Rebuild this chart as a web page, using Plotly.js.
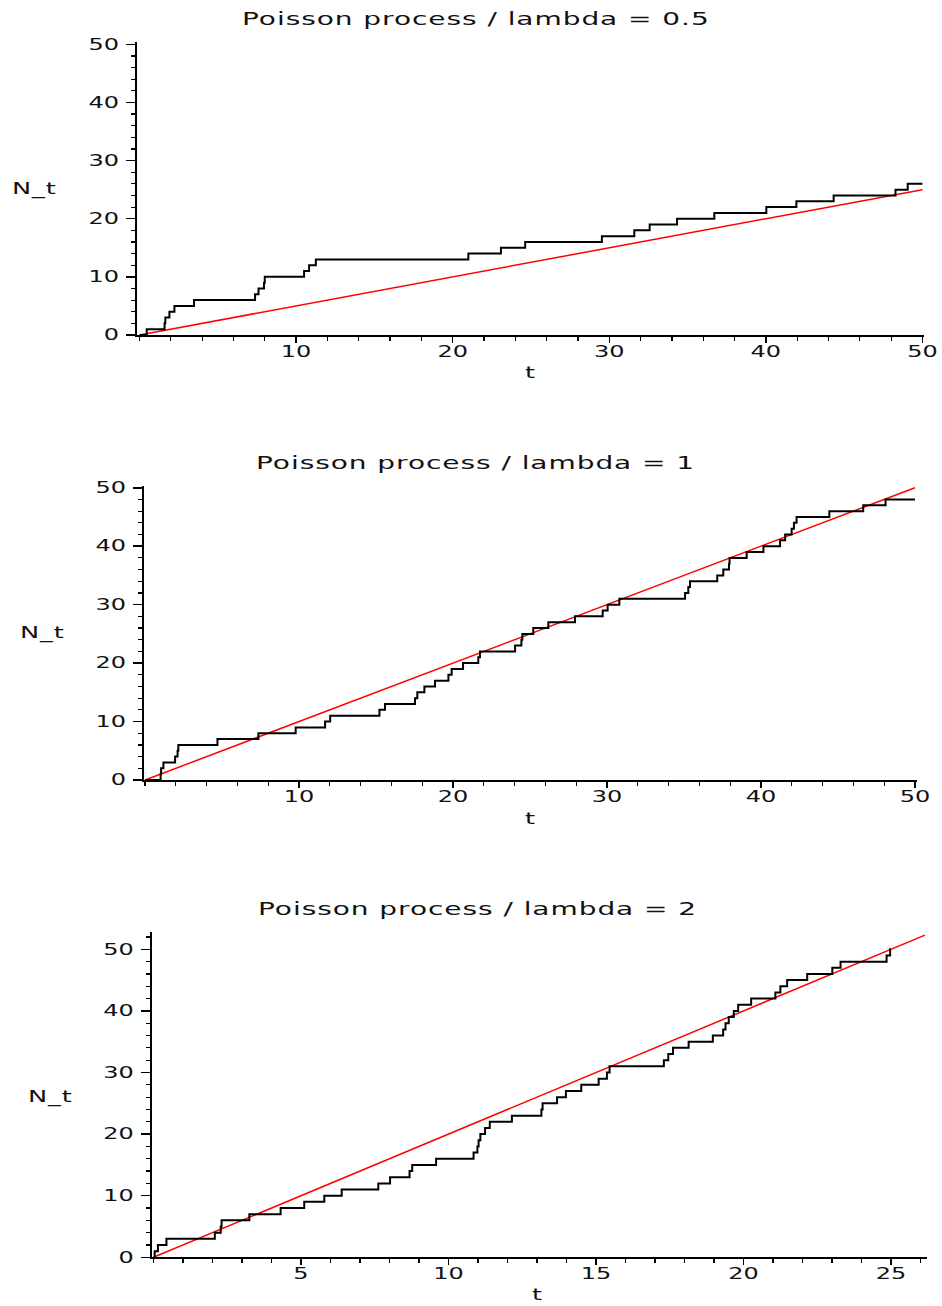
<!DOCTYPE html>
<html>
<head>
<meta charset="utf-8">
<script src="https://cdn.plot.ly/plotly-3.0.1.min.js"></script>
<style>
html, body { margin: 0; padding: 0; background: #ffffff; }
#chart { width: 942px; height: 1306px; }
g.xtick, g.x2tick, g.x3tick { transform-box: fill-box; transform-origin: center; transform: scaleX(1.6); }
g.ytick, g.y2tick, g.y3tick { transform-box: fill-box; transform-origin: right center; transform: scaleX(1.6); }
text.annotation-text { transform-box: fill-box; transform-origin: center; transform: scaleX(1.6); letter-spacing: 0.6px; }
</style>
</head>
<body>
<div id="chart"></div>
<script>
// ---- data ----
const panelTitles = ["Poisson process / lambda = 0.5", "Poisson process / lambda = 1", "Poisson process / lambda = 2"];
const xAxisLabel = "t";
const yAxisLabel = "N_t";

// jump (arrival) times of each simulated path
const jumpsLambda05 = [0.46, 1.60, 1.65, 1.91, 2.23, 3.48, 7.38, 7.60, 7.95, 8.00, 10.51, 10.83, 11.26,
  21.0, 23.08, 24.63, 29.53, 31.6, 32.58, 34.33, 36.71, 40.03, 41.95, 44.33, 48.28, 49.06];
const endLambda05 = 50;

const jumpsLambda1 = [1.01, 1.04, 1.19, 1.95, 2.11, 2.16, 4.70, 7.36, 9.78, 11.69, 12.02, 15.22, 15.58,
  17.53, 17.68, 18.14, 18.83, 19.70, 19.91, 20.65, 21.64, 21.75, 24.03, 24.44, 24.50, 25.21, 26.19,
  27.92, 29.72, 30.04, 30.80, 35.07, 35.28, 35.39, 37.16, 37.55, 37.92, 37.96, 39.07, 40.16, 41.24,
  41.57, 41.99, 42.14, 42.31, 44.44, 46.64, 48.09];
const endLambda1 = 50;

const jumpsLambda2 = [0.04, 0.15, 0.44, 2.08, 2.28, 2.31, 3.25, 4.31, 5.11, 5.79, 6.38, 7.62, 8.02,
  8.68, 8.77, 9.58, 10.85, 10.98, 11.02, 11.08, 11.24, 11.40, 12.15, 13.15, 13.19, 13.68, 13.98,
  14.5, 15.09, 15.37, 15.46, 17.3, 17.45, 17.61, 18.14, 18.96, 19.31, 19.39, 19.5, 19.67, 19.82,
  20.26, 21.08, 21.25, 21.48, 22.16, 23.01, 23.29, 24.85, 24.97];
const endLambda2 = 25.0;

// expected value lines (red)
const meanT05 = [0, 50];   const meanN05 = [0, 25];
const meanT1  = [0, 50];   const meanN1  = [0, 50];
const meanT2  = [0, 26.15]; const meanN2 = [0, 52.3];

// tick labels
const xTicks12 = [10, 20, 30, 40, 50];
const xTicks3 = [5, 10, 15, 20, 25];
const yTicks = [0, 10, 20, 30, 40, 50];

// ---- build ----
const W = 942, H = 1306;
const FONT = "DejaVu Sans";
const TXT = "#111111";

function stepPath(jumps, end) {
  const x = [0], y = [0];
  jumps.forEach((t, i) => { x.push(t); y.push(i + 1); });
  x.push(end); y.push(jumps.length);
  return { x, y };
}

function redTrace(tx, ny, xa, ya) {
  return { x: tx, y: ny, xaxis: xa, yaxis: ya, type: 'scatter', mode: 'lines',
           line: { color: '#ff0000', width: 1.5 }, hoverinfo: 'skip' };
}
function blackTrace(jumps, end, xa, ya) {
  const p = stepPath(jumps, end);
  return { x: p.x, y: p.y, xaxis: xa, yaxis: ya, type: 'scatter', mode: 'lines',
           line: { color: '#000000', width: 2, shape: 'hv' }, hoverinfo: 'skip' };
}

const data = [
  redTrace(meanT05, meanN05, 'x', 'y'),
  blackTrace(jumpsLambda05, endLambda05, 'x', 'y'),
  redTrace(meanT1, meanN1, 'x2', 'y2'),
  blackTrace(jumpsLambda1, endLambda1, 'x2', 'y2'),
  redTrace(meanT2, meanN2, 'x3', 'y3'),
  blackTrace(jumpsLambda2, endLambda2, 'x3', 'y3')
];

function px(X) { return X / W; }
function py(Y) { return 1 - Y / H; }

function xAxis(x0, x1, range, tickvals, minorD, anchor) {
  return {
    domain: [px(x0), px(x1)], range: range, anchor: anchor,
    tickmode: 'array', tickvals: tickvals, ticktext: tickvals.map(String),
    ticks: 'outside', ticklen: 6, tickwidth: 1.5, tickcolor: '#000',
    ticklabelstandoff: -4,
    showline: true, linecolor: '#000', linewidth: 2,
    showgrid: false, zeroline: false, fixedrange: true,
    tickfont: { family: FONT, size: 15, color: TXT },
    minor: { tickmode: 'linear', tick0: 0, dtick: minorD, ticks: 'outside', ticklen: 4,
             tickwidth: 1.2, tickcolor: '#000', showgrid: false }
  };
}
function yAxis(yBottom, yTop, range, anchor) {
  return {
    domain: [py(yBottom), py(yTop)], range: range, anchor: anchor,
    tickmode: 'array', tickvals: yTicks, ticktext: yTicks.map(String),
    ticks: 'outside', ticklen: 9, tickwidth: 1.5, tickcolor: '#000',
    ticklabelstandoff: 4,
    showline: true, linecolor: '#000', linewidth: 2,
    showgrid: false, zeroline: false, fixedrange: true,
    tickfont: { family: FONT, size: 15, color: TXT },
    minor: { tickmode: 'linear', tick0: 0, dtick: 2, ticks: 'outside', ticklen: 4,
             tickwidth: 1.2, tickcolor: '#000', showgrid: false }
  };
}

function ann(text, X, Y, size, yanchor) {
  return { text: text, xref: 'paper', yref: 'paper', x: px(X), y: py(Y),
           xanchor: 'center', yanchor: yanchor || 'middle', showarrow: false, borderpad: 0,
           font: { family: FONT, size: size, color: TXT } };
}

const layout = {
  width: W, height: H,
  margin: { l: 0, r: 0, t: 0, b: 0 },
  paper_bgcolor: '#ffffff', plot_bgcolor: '#ffffff',
  showlegend: false,
  xaxis:  xAxis(137, 924, [-0.16, 50.1], xTicks12, 2, 'y'),
  yaxis:  yAxis(335, 42, [0, 50.4], 'x'),
  xaxis2: xAxis(144, 916.5, [-0.07, 50.1], xTicks12, 2, 'y2'),
  yaxis2: yAxis(780, 486, [0, 50.3], 'x2'),
  xaxis3: xAxis(151.7, 927, [-0.06, 26.22], xTicks3, 1, 'y3'),
  yaxis3: yAxis(1257.3, 931.7, [0, 52.86], 'x3'),
  annotations: [
    ann(panelTitles[0], 475.5, 20, 17.5),
    ann(panelTitles[1], 475, 463, 17.5),
    ann(panelTitles[2], 477, 909, 17.5),
    ann(xAxisLabel, 530, 372, 16),
    ann(xAxisLabel, 530, 818, 16),
    ann(xAxisLabel, 537, 1305, 16, 'bottom'),
    ann(yAxisLabel, 34.5, 188, 16),
    ann(yAxisLabel, 42, 632, 16),
    ann(yAxisLabel, 50, 1096, 16)
  ]
};

Plotly.newPlot('chart', data, layout, { staticPlot: true, displayModeBar: false });
</script>
</body>
</html>
